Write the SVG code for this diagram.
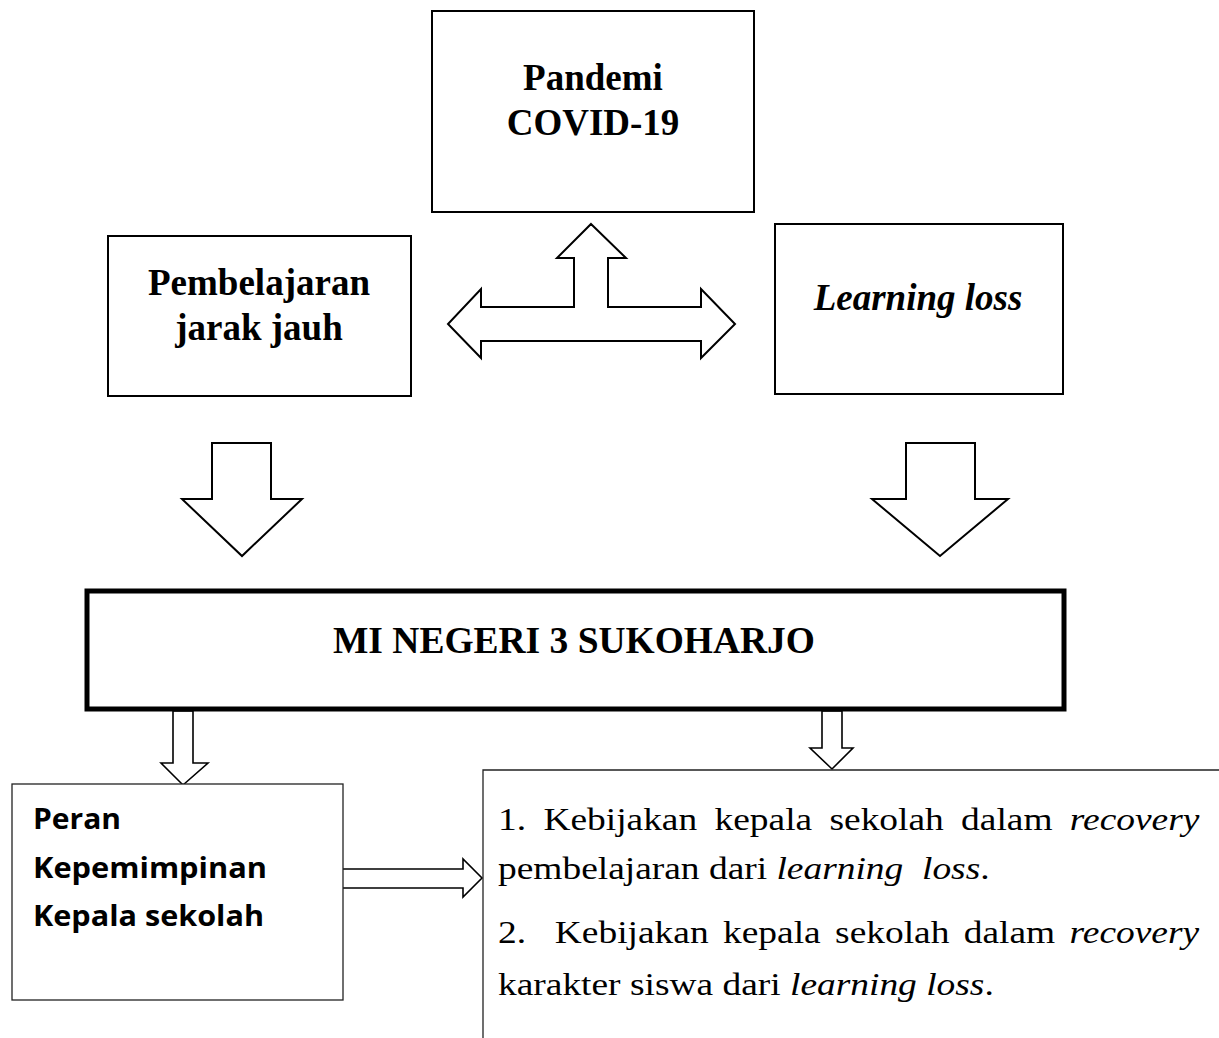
<svg xmlns="http://www.w3.org/2000/svg" width="1219" height="1038" viewBox="0 0 1219 1038">
<style>
.box{fill:#fff;stroke:#000;stroke-width:2}
.thin{fill:#fff;stroke:#222;stroke-width:1.3}
.thick{fill:#fff;stroke:#000;stroke-width:5}
.arr{fill:#fff;stroke:#000;stroke-width:2;stroke-linejoin:miter}
.arr2{fill:#fff;stroke:#000;stroke-width:1.6;stroke-linejoin:miter}
.tb{font-family:"Liberation Serif","Times New Roman",serif;font-weight:bold;font-size:37px;fill:#000}
.sb{font-family:"Open Sans","Noto Sans",sans-serif;font-weight:bold;font-size:28px;fill:#000}
.tr{font-family:"Liberation Serif","Times New Roman",serif;font-size:32px;fill:#000}
.it{font-style:italic}
</style>
<rect width="1219" height="1038" fill="#fff"/>
<g id="connectors">
<polygon class="arr" points="591,224 626,258 608,258 608,307 701,307 701,289 735,324 701,358 701,341 481,341 481,358 448,324 481,289 481,307 574,307 574,258 557,258"/>
<polygon class="arr" points="212,443 271,443 271,499 302,499 242,556 182,499 212,499"/>
<polygon class="arr" points="906,443 975,443 975,499 1008,499 940,556 872,499 906,499"/>
<polygon class="arr2" points="173,711 193,711 193,763 208,763 183,785 161,763 173,763"/>
<polygon class="arr2" points="822,711 842,711 842,748 853,748 832,769 810,748 822,748"/>
<polygon class="arr2" points="341,869 463,869 463,859 482,878 463,897 463,888 341,888"/>
</g>
<g id="pandemi">
<rect class="box" x="432" y="11" width="322" height="201"/>
<text class="tb" x="593" y="90" text-anchor="middle" font-size="36">Pandemi</text>
<text class="tb" x="593" y="135" text-anchor="middle" font-size="36">COVID-19</text>
</g>
<g id="pjj">
<rect class="box" x="108" y="236" width="303" height="160"/>
<text class="tb" x="259" y="295" text-anchor="middle">Pembelajaran</text>
<text class="tb" x="259" y="340" text-anchor="middle">jarak jauh</text>
</g>
<g id="learningloss">
<rect class="box" x="775" y="224" width="288" height="170"/>
<text class="tb it" x="918" y="310" text-anchor="middle">Learning loss</text>
</g>
<g id="mi">
<rect class="thick" x="87" y="591" width="977" height="118"/>
<text class="tb" x="333" y="653" font-size="34" textLength="482" lengthAdjust="spacingAndGlyphs">MI NEGERI 3 SUKOHARJO</text>
</g>
<g id="peran">
<rect class="thin" x="12" y="784" width="331" height="216"/>
<text class="sb" x="33" y="829" textLength="88" lengthAdjust="spacingAndGlyphs">Peran</text>
<text class="sb" x="33" y="878" textLength="234" lengthAdjust="spacingAndGlyphs">Kepemimpinan</text>
<text class="sb" x="33" y="926" textLength="231" lengthAdjust="spacingAndGlyphs">Kepala sekolah</text>
</g>
<g id="kebijakan">
<path d="M483,1038 V770 H1219" fill="none" stroke="#222" stroke-width="1.3"/>
<text class="tr" transform="matrix(1.17 0 0 1 498 830)" word-spacing="6.8">1. Kebijakan kepala sekolah dalam <tspan class="it">recovery</tspan></text>
<text class="tr" transform="matrix(1.17 0 0 1 498 879)" xml:space="preserve">pembelajaran dari <tspan class="it">learning  loss</tspan>.</text>
<text class="tr" transform="matrix(1.17 0 0 1 498 943)" word-spacing="4.3" xml:space="preserve">2.  Kebijakan kepala sekolah dalam <tspan class="it">recovery</tspan></text>
<text class="tr" transform="matrix(1.17 0 0 1 498 995)">karakter siswa dari <tspan class="it">learning loss</tspan>.</text>
</g>
</svg>
